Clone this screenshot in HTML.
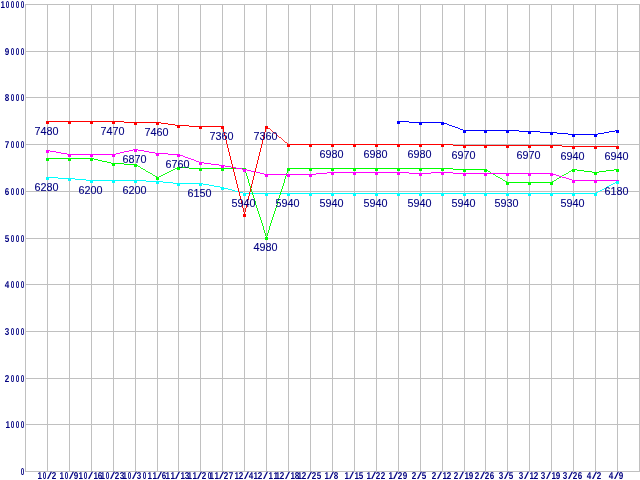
<!DOCTYPE html>
<html><head><meta charset="utf-8"><title>chart</title>
<style>
html,body{margin:0;padding:0;background:#fff;overflow:hidden}
svg{display:block}
.g{fill:#c0c0c0;shape-rendering:crispEdges}
.ax{font-family:"Liberation Sans",sans-serif;font-weight:bold;font-size:10.0px;text-rendering:geometricPrecision;fill:#000080}
.lb{font-family:"Liberation Sans",sans-serif;font-size:10.8px;fill:#000080;text-anchor:middle;stroke:#000080;stroke-width:0.1px}
.sl{font-weight:normal}
.ln{fill:none;stroke-width:1;shape-rendering:crispEdges}
.mk{shape-rendering:crispEdges}
</style></head><body>
<svg width="640" height="480" viewBox="0 0 640 480">
<rect width="640" height="480" fill="#fff"/>
<g class="g">
<rect x="25" y="4" width="1" height="468"/><rect x="47" y="4" width="1" height="468"/><rect x="69" y="4" width="1" height="468"/><rect x="91" y="4" width="1" height="468"/><rect x="113" y="4" width="1" height="468"/><rect x="135" y="4" width="1" height="468"/><rect x="157" y="4" width="1" height="468"/><rect x="178" y="4" width="1" height="468"/><rect x="200" y="4" width="1" height="468"/><rect x="222" y="4" width="1" height="468"/><rect x="244" y="4" width="1" height="468"/><rect x="266" y="4" width="1" height="468"/><rect x="288" y="4" width="1" height="468"/><rect x="310" y="4" width="1" height="468"/><rect x="332" y="4" width="1" height="468"/><rect x="354" y="4" width="1" height="468"/><rect x="376" y="4" width="1" height="468"/><rect x="398" y="4" width="1" height="468"/><rect x="420" y="4" width="1" height="468"/><rect x="442" y="4" width="1" height="468"/><rect x="464" y="4" width="1" height="468"/><rect x="485" y="4" width="1" height="468"/><rect x="507" y="4" width="1" height="468"/><rect x="529" y="4" width="1" height="468"/><rect x="551" y="4" width="1" height="468"/><rect x="573" y="4" width="1" height="468"/><rect x="595" y="4" width="1" height="468"/><rect x="617" y="4" width="1" height="468"/><rect x="639" y="4" width="1" height="468"/>
<rect x="25" y="471" width="615" height="1"/><rect x="25" y="424" width="615" height="1"/><rect x="25" y="378" width="615" height="1"/><rect x="25" y="331" width="615" height="1"/><rect x="25" y="284" width="615" height="1"/><rect x="25" y="238" width="615" height="1"/><rect x="25" y="191" width="615" height="1"/><rect x="25" y="144" width="615" height="1"/><rect x="25" y="97" width="615" height="1"/><rect x="25" y="51" width="615" height="1"/><rect x="25" y="4" width="615" height="1"/>
</g>
<g class="ln" stroke="#00ffff"><line x1="47.47" y1="177.5" x2="69.47" y2="178.5" stroke-width="0.999"/><line x1="69.47" y1="178.5" x2="91.47" y2="180.5" stroke-width="0.996"/><line x1="91.5" y1="180.5" x2="113.5" y2="180.5"/><line x1="113.5" y1="180.5" x2="135.5" y2="180.5"/><line x1="135.47" y1="180.5" x2="157.47" y2="181.5" stroke-width="0.999"/><line x1="157.47" y1="181.5" x2="178.47" y2="183.5" stroke-width="0.995"/><line x1="178.5" y1="183.5" x2="200.5" y2="183.5"/><line x1="200.47" y1="183.5" x2="222.47" y2="187.5" stroke-width="0.984"/><line x1="222.47" y1="187.5" x2="244.47" y2="193.5" stroke-width="0.965"/><line x1="244.5" y1="193.5" x2="266.5" y2="193.5"/><line x1="266.5" y1="193.5" x2="288.5" y2="193.5"/><line x1="288.5" y1="193.5" x2="310.5" y2="193.5"/><line x1="310.5" y1="193.5" x2="332.5" y2="193.5"/><line x1="332.5" y1="193.5" x2="354.5" y2="193.5"/><line x1="354.5" y1="193.5" x2="376.5" y2="193.5"/><line x1="376.5" y1="193.5" x2="398.5" y2="193.5"/><line x1="398.5" y1="193.5" x2="420.5" y2="193.5"/><line x1="420.5" y1="193.5" x2="442.5" y2="193.5"/><line x1="442.5" y1="193.5" x2="464.5" y2="193.5"/><line x1="464.5" y1="193.5" x2="485.5" y2="193.5"/><line x1="485.5" y1="193.5" x2="507.5" y2="193.5"/><line x1="507.5" y1="193.5" x2="529.5" y2="193.5"/><line x1="529.5" y1="193.5" x2="551.5" y2="193.5"/><line x1="551.5" y1="193.5" x2="573.5" y2="193.5"/><line x1="573.5" y1="193.5" x2="595.5" y2="193.5"/><line x1="595.47" y1="193.5" x2="617.47" y2="181.5" stroke-width="0.878"/></g>
<g class="mk" fill="#00ffff"><rect x="46" y="177" width="3" height="3"/><rect x="68" y="178" width="3" height="3"/><rect x="90" y="180" width="3" height="3"/><rect x="112" y="180" width="3" height="3"/><rect x="134" y="180" width="3" height="3"/><rect x="156" y="181" width="3" height="3"/><rect x="177" y="183" width="3" height="3"/><rect x="199" y="183" width="3" height="3"/><rect x="221" y="187" width="3" height="3"/><rect x="243" y="193" width="3" height="3"/><rect x="265" y="193" width="3" height="3"/><rect x="287" y="193" width="3" height="3"/><rect x="309" y="193" width="3" height="3"/><rect x="331" y="193" width="3" height="3"/><rect x="353" y="193" width="3" height="3"/><rect x="375" y="193" width="3" height="3"/><rect x="397" y="193" width="3" height="3"/><rect x="419" y="193" width="3" height="3"/><rect x="441" y="193" width="3" height="3"/><rect x="463" y="193" width="3" height="3"/><rect x="484" y="193" width="3" height="3"/><rect x="506" y="193" width="3" height="3"/><rect x="528" y="193" width="3" height="3"/><rect x="550" y="193" width="3" height="3"/><rect x="572" y="193" width="3" height="3"/><rect x="594" y="193" width="3" height="3"/><rect x="616" y="181" width="3" height="3"/></g>
<g class="ln" stroke="#00ff00"><line x1="47.5" y1="158.5" x2="69.5" y2="158.5"/><line x1="69.5" y1="158.5" x2="91.5" y2="158.5"/><line x1="91.47" y1="158.5" x2="113.47" y2="163.5" stroke-width="0.975"/><line x1="113.47" y1="163.5" x2="135.47" y2="164.5" stroke-width="0.999"/><line x1="135.47" y1="164.5" x2="157.47" y2="177.5" stroke-width="0.861"/><line x1="157.47" y1="177.5" x2="178.47" y2="167.5" stroke-width="0.903"/><line x1="178.47" y1="167.5" x2="200.47" y2="168.5" stroke-width="0.999"/><line x1="200.5" y1="168.5" x2="222.5" y2="168.5"/><line x1="222.5" y1="168.5" x2="244.5" y2="168.5"/><line x1="244.5" y1="168.47" x2="266.5" y2="237.47" stroke-width="0.953"/><line x1="266.5" y1="237.47" x2="288.5" y2="168.47" stroke-width="0.953"/><line x1="288.5" y1="168.5" x2="310.5" y2="168.5"/><line x1="310.5" y1="168.5" x2="332.5" y2="168.5"/><line x1="332.5" y1="168.5" x2="354.5" y2="168.5"/><line x1="354.5" y1="168.5" x2="376.5" y2="168.5"/><line x1="376.5" y1="168.5" x2="398.5" y2="168.5"/><line x1="398.5" y1="168.5" x2="420.5" y2="168.5"/><line x1="420.5" y1="168.5" x2="442.5" y2="168.5"/><line x1="442.47" y1="168.5" x2="464.47" y2="169.5" stroke-width="0.999"/><line x1="464.5" y1="169.5" x2="485.5" y2="169.5"/><line x1="485.47" y1="169.5" x2="507.47" y2="182.5" stroke-width="0.861"/><line x1="507.5" y1="182.5" x2="529.5" y2="182.5"/><line x1="529.5" y1="182.5" x2="551.5" y2="182.5"/><line x1="551.47" y1="182.5" x2="573.47" y2="169.5" stroke-width="0.861"/><line x1="573.47" y1="169.5" x2="595.47" y2="172.5" stroke-width="0.991"/><line x1="595.47" y1="172.5" x2="617.47" y2="169.5" stroke-width="0.991"/></g>
<g class="mk" fill="#00ff00"><rect x="46" y="158" width="3" height="3"/><rect x="68" y="158" width="3" height="3"/><rect x="90" y="158" width="3" height="3"/><rect x="112" y="163" width="3" height="3"/><rect x="134" y="164" width="3" height="3"/><rect x="156" y="177" width="3" height="3"/><rect x="177" y="167" width="3" height="3"/><rect x="199" y="168" width="3" height="3"/><rect x="221" y="168" width="3" height="3"/><rect x="243" y="168" width="3" height="3"/><rect x="265" y="237" width="3" height="3"/><rect x="287" y="168" width="3" height="3"/><rect x="309" y="168" width="3" height="3"/><rect x="331" y="168" width="3" height="3"/><rect x="353" y="168" width="3" height="3"/><rect x="375" y="168" width="3" height="3"/><rect x="397" y="168" width="3" height="3"/><rect x="419" y="168" width="3" height="3"/><rect x="441" y="168" width="3" height="3"/><rect x="463" y="169" width="3" height="3"/><rect x="484" y="169" width="3" height="3"/><rect x="506" y="182" width="3" height="3"/><rect x="528" y="182" width="3" height="3"/><rect x="550" y="182" width="3" height="3"/><rect x="572" y="169" width="3" height="3"/><rect x="594" y="172" width="3" height="3"/><rect x="616" y="169" width="3" height="3"/></g>
<g class="ln" stroke="#ff00ff"><line x1="47.47" y1="150.5" x2="69.47" y2="154.5" stroke-width="0.984"/><line x1="69.5" y1="154.5" x2="91.5" y2="154.5"/><line x1="91.5" y1="154.5" x2="113.5" y2="154.5"/><line x1="113.47" y1="154.5" x2="135.47" y2="149.5" stroke-width="0.975"/><line x1="135.47" y1="149.5" x2="157.47" y2="153.5" stroke-width="0.984"/><line x1="157.47" y1="153.5" x2="178.47" y2="154.5" stroke-width="0.999"/><line x1="178.47" y1="154.5" x2="200.47" y2="162.5" stroke-width="0.940"/><line x1="200.47" y1="162.5" x2="222.47" y2="165.5" stroke-width="0.991"/><line x1="222.47" y1="165.5" x2="244.47" y2="169.5" stroke-width="0.984"/><line x1="244.47" y1="169.5" x2="266.47" y2="174.5" stroke-width="0.975"/><line x1="266.5" y1="174.5" x2="288.5" y2="174.5"/><line x1="288.5" y1="174.5" x2="310.5" y2="174.5"/><line x1="310.47" y1="174.5" x2="332.47" y2="172.5" stroke-width="0.996"/><line x1="332.5" y1="172.5" x2="354.5" y2="172.5"/><line x1="354.5" y1="172.5" x2="376.5" y2="172.5"/><line x1="376.5" y1="172.5" x2="398.5" y2="172.5"/><line x1="398.47" y1="172.5" x2="420.47" y2="173.5" stroke-width="0.999"/><line x1="420.47" y1="173.5" x2="442.47" y2="172.5" stroke-width="0.999"/><line x1="442.47" y1="172.5" x2="464.47" y2="173.5" stroke-width="0.999"/><line x1="464.5" y1="173.5" x2="485.5" y2="173.5"/><line x1="485.5" y1="173.5" x2="507.5" y2="173.5"/><line x1="507.5" y1="173.5" x2="529.5" y2="173.5"/><line x1="529.5" y1="173.5" x2="551.5" y2="173.5"/><line x1="551.47" y1="173.5" x2="573.47" y2="180.5" stroke-width="0.953"/><line x1="573.5" y1="180.5" x2="595.5" y2="180.5"/><line x1="595.5" y1="180.5" x2="617.5" y2="180.5"/></g>
<g class="mk" fill="#ff00ff"><rect x="46" y="150" width="3" height="3"/><rect x="68" y="154" width="3" height="3"/><rect x="90" y="154" width="3" height="3"/><rect x="112" y="154" width="3" height="3"/><rect x="134" y="149" width="3" height="3"/><rect x="156" y="153" width="3" height="3"/><rect x="177" y="154" width="3" height="3"/><rect x="199" y="162" width="3" height="3"/><rect x="221" y="165" width="3" height="3"/><rect x="243" y="169" width="3" height="3"/><rect x="265" y="174" width="3" height="3"/><rect x="287" y="174" width="3" height="3"/><rect x="309" y="174" width="3" height="3"/><rect x="331" y="172" width="3" height="3"/><rect x="353" y="172" width="3" height="3"/><rect x="375" y="172" width="3" height="3"/><rect x="397" y="172" width="3" height="3"/><rect x="419" y="173" width="3" height="3"/><rect x="441" y="172" width="3" height="3"/><rect x="463" y="173" width="3" height="3"/><rect x="484" y="173" width="3" height="3"/><rect x="506" y="173" width="3" height="3"/><rect x="528" y="173" width="3" height="3"/><rect x="550" y="173" width="3" height="3"/><rect x="572" y="180" width="3" height="3"/><rect x="594" y="180" width="3" height="3"/><rect x="616" y="180" width="3" height="3"/></g>
<g class="ln" stroke="#ff0000"><line x1="47.5" y1="121.5" x2="69.5" y2="121.5"/><line x1="69.5" y1="121.5" x2="91.5" y2="121.5"/><line x1="91.5" y1="121.5" x2="113.5" y2="121.5"/><line x1="113.47" y1="121.5" x2="135.47" y2="122.5" stroke-width="0.999"/><line x1="135.5" y1="122.5" x2="157.5" y2="122.5"/><line x1="157.47" y1="122.5" x2="178.47" y2="125.5" stroke-width="0.990"/><line x1="178.47" y1="125.5" x2="200.47" y2="126.5" stroke-width="0.999"/><line x1="200.5" y1="126.5" x2="222.5" y2="126.5"/><line x1="222.5" y1="126.47" x2="244.5" y2="214.47" stroke-width="0.970"/><line x1="244.5" y1="214.47" x2="266.5" y2="126.47" stroke-width="0.970"/><line x1="266.47" y1="126.5" x2="288.47" y2="144.5" stroke-width="0.774"/><line x1="288.5" y1="144.5" x2="310.5" y2="144.5"/><line x1="310.5" y1="144.5" x2="332.5" y2="144.5"/><line x1="332.5" y1="144.5" x2="354.5" y2="144.5"/><line x1="354.5" y1="144.5" x2="376.5" y2="144.5"/><line x1="376.5" y1="144.5" x2="398.5" y2="144.5"/><line x1="398.5" y1="144.5" x2="420.5" y2="144.5"/><line x1="420.5" y1="144.5" x2="442.5" y2="144.5"/><line x1="442.47" y1="144.5" x2="464.47" y2="145.5" stroke-width="0.999"/><line x1="464.5" y1="145.5" x2="485.5" y2="145.5"/><line x1="485.5" y1="145.5" x2="507.5" y2="145.5"/><line x1="507.5" y1="145.5" x2="529.5" y2="145.5"/><line x1="529.5" y1="145.5" x2="551.5" y2="145.5"/><line x1="551.47" y1="145.5" x2="573.47" y2="146.5" stroke-width="0.999"/><line x1="573.5" y1="146.5" x2="595.5" y2="146.5"/><line x1="595.5" y1="146.5" x2="617.5" y2="146.5"/></g>
<g class="mk" fill="#ff0000"><rect x="46" y="121" width="3" height="3"/><rect x="68" y="121" width="3" height="3"/><rect x="90" y="121" width="3" height="3"/><rect x="112" y="121" width="3" height="3"/><rect x="134" y="122" width="3" height="3"/><rect x="156" y="122" width="3" height="3"/><rect x="177" y="125" width="3" height="3"/><rect x="199" y="126" width="3" height="3"/><rect x="221" y="126" width="3" height="3"/><rect x="243" y="214" width="3" height="3"/><rect x="265" y="126" width="3" height="3"/><rect x="287" y="144" width="3" height="3"/><rect x="309" y="144" width="3" height="3"/><rect x="331" y="144" width="3" height="3"/><rect x="353" y="144" width="3" height="3"/><rect x="375" y="144" width="3" height="3"/><rect x="397" y="144" width="3" height="3"/><rect x="419" y="144" width="3" height="3"/><rect x="441" y="144" width="3" height="3"/><rect x="463" y="145" width="3" height="3"/><rect x="484" y="145" width="3" height="3"/><rect x="506" y="145" width="3" height="3"/><rect x="528" y="145" width="3" height="3"/><rect x="550" y="145" width="3" height="3"/><rect x="572" y="146" width="3" height="3"/><rect x="594" y="146" width="3" height="3"/><rect x="616" y="146" width="3" height="3"/></g>
<g class="ln" stroke="#0000ff"><line x1="398.47" y1="121.5" x2="420.47" y2="122.5" stroke-width="0.999"/><line x1="420.5" y1="122.5" x2="442.5" y2="122.5"/><line x1="442.47" y1="122.5" x2="464.47" y2="130.5" stroke-width="0.940"/><line x1="464.5" y1="130.5" x2="485.5" y2="130.5"/><line x1="485.5" y1="130.5" x2="507.5" y2="130.5"/><line x1="507.47" y1="130.5" x2="529.47" y2="131.5" stroke-width="0.999"/><line x1="529.47" y1="131.5" x2="551.47" y2="132.5" stroke-width="0.999"/><line x1="551.47" y1="132.5" x2="573.47" y2="134.5" stroke-width="0.996"/><line x1="573.5" y1="134.5" x2="595.5" y2="134.5"/><line x1="595.47" y1="134.5" x2="617.47" y2="130.5" stroke-width="0.984"/></g>
<g class="mk" fill="#0000ff"><rect x="397" y="121" width="3" height="3"/><rect x="419" y="122" width="3" height="3"/><rect x="441" y="122" width="3" height="3"/><rect x="463" y="130" width="3" height="3"/><rect x="484" y="130" width="3" height="3"/><rect x="506" y="130" width="3" height="3"/><rect x="528" y="131" width="3" height="3"/><rect x="550" y="132" width="3" height="3"/><rect x="572" y="134" width="3" height="3"/><rect x="594" y="134" width="3" height="3"/><rect x="616" y="130" width="3" height="3"/></g>
<rect class="mk" fill="#00ffff" x="616" y="181" width="3" height="3"/>
<text class="ax" y="474.55"><tspan x="20.75" textLength="3.50" lengthAdjust="spacingAndGlyphs">0</tspan></text>
<text class="ax" y="427.55"><tspan x="5.40" textLength="4.50" lengthAdjust="spacingAndGlyphs">1</tspan><tspan x="10.75" textLength="3.50" lengthAdjust="spacingAndGlyphs">0</tspan><tspan x="15.75" textLength="3.50" lengthAdjust="spacingAndGlyphs">0</tspan><tspan x="20.75" textLength="3.50" lengthAdjust="spacingAndGlyphs">0</tspan></text>
<text class="ax" y="381.55"><tspan x="4.80" textLength="4.50" lengthAdjust="spacingAndGlyphs">2</tspan><tspan x="10.75" textLength="3.50" lengthAdjust="spacingAndGlyphs">0</tspan><tspan x="15.75" textLength="3.50" lengthAdjust="spacingAndGlyphs">0</tspan><tspan x="20.75" textLength="3.50" lengthAdjust="spacingAndGlyphs">0</tspan></text>
<text class="ax" y="334.55"><tspan x="4.80" textLength="4.50" lengthAdjust="spacingAndGlyphs">3</tspan><tspan x="10.75" textLength="3.50" lengthAdjust="spacingAndGlyphs">0</tspan><tspan x="15.75" textLength="3.50" lengthAdjust="spacingAndGlyphs">0</tspan><tspan x="20.75" textLength="3.50" lengthAdjust="spacingAndGlyphs">0</tspan></text>
<text class="ax" y="287.55"><tspan x="4.80" textLength="4.50" lengthAdjust="spacingAndGlyphs">4</tspan><tspan x="10.75" textLength="3.50" lengthAdjust="spacingAndGlyphs">0</tspan><tspan x="15.75" textLength="3.50" lengthAdjust="spacingAndGlyphs">0</tspan><tspan x="20.75" textLength="3.50" lengthAdjust="spacingAndGlyphs">0</tspan></text>
<text class="ax" y="241.55"><tspan x="4.80" textLength="4.50" lengthAdjust="spacingAndGlyphs">5</tspan><tspan x="10.75" textLength="3.50" lengthAdjust="spacingAndGlyphs">0</tspan><tspan x="15.75" textLength="3.50" lengthAdjust="spacingAndGlyphs">0</tspan><tspan x="20.75" textLength="3.50" lengthAdjust="spacingAndGlyphs">0</tspan></text>
<text class="ax" y="194.55"><tspan x="4.80" textLength="4.50" lengthAdjust="spacingAndGlyphs">6</tspan><tspan x="10.75" textLength="3.50" lengthAdjust="spacingAndGlyphs">0</tspan><tspan x="15.75" textLength="3.50" lengthAdjust="spacingAndGlyphs">0</tspan><tspan x="20.75" textLength="3.50" lengthAdjust="spacingAndGlyphs">0</tspan></text>
<text class="ax" y="147.55"><tspan x="4.80" textLength="4.50" lengthAdjust="spacingAndGlyphs">7</tspan><tspan x="10.75" textLength="3.50" lengthAdjust="spacingAndGlyphs">0</tspan><tspan x="15.75" textLength="3.50" lengthAdjust="spacingAndGlyphs">0</tspan><tspan x="20.75" textLength="3.50" lengthAdjust="spacingAndGlyphs">0</tspan></text>
<text class="ax" y="100.55"><tspan x="4.80" textLength="4.50" lengthAdjust="spacingAndGlyphs">8</tspan><tspan x="10.75" textLength="3.50" lengthAdjust="spacingAndGlyphs">0</tspan><tspan x="15.75" textLength="3.50" lengthAdjust="spacingAndGlyphs">0</tspan><tspan x="20.75" textLength="3.50" lengthAdjust="spacingAndGlyphs">0</tspan></text>
<text class="ax" y="54.55"><tspan x="4.80" textLength="4.50" lengthAdjust="spacingAndGlyphs">9</tspan><tspan x="10.75" textLength="3.50" lengthAdjust="spacingAndGlyphs">0</tspan><tspan x="15.75" textLength="3.50" lengthAdjust="spacingAndGlyphs">0</tspan><tspan x="20.75" textLength="3.50" lengthAdjust="spacingAndGlyphs">0</tspan></text>
<text class="ax" y="7.55"><tspan x="0.40" textLength="4.50" lengthAdjust="spacingAndGlyphs">1</tspan><tspan x="5.75" textLength="3.50" lengthAdjust="spacingAndGlyphs">0</tspan><tspan x="10.75" textLength="3.50" lengthAdjust="spacingAndGlyphs">0</tspan><tspan x="15.75" textLength="3.50" lengthAdjust="spacingAndGlyphs">0</tspan><tspan x="20.75" textLength="3.50" lengthAdjust="spacingAndGlyphs">0</tspan></text>
<text class="ax" y="478.55"><tspan x="37.40" textLength="4.50" lengthAdjust="spacingAndGlyphs">1</tspan><tspan x="42.75" textLength="3.50" lengthAdjust="spacingAndGlyphs">0</tspan><tspan class="sl" x="47.10" textLength="5" lengthAdjust="spacingAndGlyphs">/</tspan><tspan x="51.80" textLength="4.50" lengthAdjust="spacingAndGlyphs">2</tspan></text>
<text class="ax" y="478.55"><tspan x="59.40" textLength="4.50" lengthAdjust="spacingAndGlyphs">1</tspan><tspan x="64.75" textLength="3.50" lengthAdjust="spacingAndGlyphs">0</tspan><tspan class="sl" x="69.10" textLength="5" lengthAdjust="spacingAndGlyphs">/</tspan><tspan x="73.80" textLength="4.50" lengthAdjust="spacingAndGlyphs">9</tspan></text>
<text class="ax" y="478.55"><tspan x="78.40" textLength="4.50" lengthAdjust="spacingAndGlyphs">1</tspan><tspan x="83.75" textLength="3.50" lengthAdjust="spacingAndGlyphs">0</tspan><tspan class="sl" x="88.10" textLength="5" lengthAdjust="spacingAndGlyphs">/</tspan><tspan x="93.40" textLength="4.50" lengthAdjust="spacingAndGlyphs">1</tspan><tspan x="97.80" textLength="4.50" lengthAdjust="spacingAndGlyphs">6</tspan></text>
<text class="ax" y="478.55"><tspan x="100.40" textLength="4.50" lengthAdjust="spacingAndGlyphs">1</tspan><tspan x="105.75" textLength="3.50" lengthAdjust="spacingAndGlyphs">0</tspan><tspan class="sl" x="110.10" textLength="5" lengthAdjust="spacingAndGlyphs">/</tspan><tspan x="114.80" textLength="4.50" lengthAdjust="spacingAndGlyphs">2</tspan><tspan x="119.80" textLength="4.50" lengthAdjust="spacingAndGlyphs">3</tspan></text>
<text class="ax" y="478.55"><tspan x="122.40" textLength="4.50" lengthAdjust="spacingAndGlyphs">1</tspan><tspan x="127.75" textLength="3.50" lengthAdjust="spacingAndGlyphs">0</tspan><tspan class="sl" x="132.10" textLength="5" lengthAdjust="spacingAndGlyphs">/</tspan><tspan x="136.80" textLength="4.50" lengthAdjust="spacingAndGlyphs">3</tspan><tspan x="142.75" textLength="3.50" lengthAdjust="spacingAndGlyphs">0</tspan></text>
<text class="ax" y="478.55"><tspan x="147.40" textLength="4.50" lengthAdjust="spacingAndGlyphs">1</tspan><tspan x="152.40" textLength="4.50" lengthAdjust="spacingAndGlyphs">1</tspan><tspan class="sl" x="157.10" textLength="5" lengthAdjust="spacingAndGlyphs">/</tspan><tspan x="161.80" textLength="4.50" lengthAdjust="spacingAndGlyphs">6</tspan></text>
<text class="ax" y="478.55"><tspan x="165.40" textLength="4.50" lengthAdjust="spacingAndGlyphs">1</tspan><tspan x="170.40" textLength="4.50" lengthAdjust="spacingAndGlyphs">1</tspan><tspan class="sl" x="175.10" textLength="5" lengthAdjust="spacingAndGlyphs">/</tspan><tspan x="180.40" textLength="4.50" lengthAdjust="spacingAndGlyphs">1</tspan><tspan x="184.80" textLength="4.50" lengthAdjust="spacingAndGlyphs">3</tspan></text>
<text class="ax" y="478.55"><tspan x="187.40" textLength="4.50" lengthAdjust="spacingAndGlyphs">1</tspan><tspan x="192.40" textLength="4.50" lengthAdjust="spacingAndGlyphs">1</tspan><tspan class="sl" x="197.10" textLength="5" lengthAdjust="spacingAndGlyphs">/</tspan><tspan x="201.80" textLength="4.50" lengthAdjust="spacingAndGlyphs">2</tspan><tspan x="207.75" textLength="3.50" lengthAdjust="spacingAndGlyphs">0</tspan></text>
<text class="ax" y="478.55"><tspan x="209.40" textLength="4.50" lengthAdjust="spacingAndGlyphs">1</tspan><tspan x="214.40" textLength="4.50" lengthAdjust="spacingAndGlyphs">1</tspan><tspan class="sl" x="219.10" textLength="5" lengthAdjust="spacingAndGlyphs">/</tspan><tspan x="223.80" textLength="4.50" lengthAdjust="spacingAndGlyphs">2</tspan><tspan x="228.80" textLength="4.50" lengthAdjust="spacingAndGlyphs">7</tspan></text>
<text class="ax" y="478.55"><tspan x="234.40" textLength="4.50" lengthAdjust="spacingAndGlyphs">1</tspan><tspan x="238.80" textLength="4.50" lengthAdjust="spacingAndGlyphs">2</tspan><tspan class="sl" x="244.10" textLength="5" lengthAdjust="spacingAndGlyphs">/</tspan><tspan x="248.80" textLength="4.50" lengthAdjust="spacingAndGlyphs">4</tspan></text>
<text class="ax" y="478.55"><tspan x="253.40" textLength="4.50" lengthAdjust="spacingAndGlyphs">1</tspan><tspan x="257.80" textLength="4.50" lengthAdjust="spacingAndGlyphs">2</tspan><tspan class="sl" x="263.10" textLength="5" lengthAdjust="spacingAndGlyphs">/</tspan><tspan x="268.40" textLength="4.50" lengthAdjust="spacingAndGlyphs">1</tspan><tspan x="273.40" textLength="4.50" lengthAdjust="spacingAndGlyphs">1</tspan></text>
<text class="ax" y="478.55"><tspan x="275.40" textLength="4.50" lengthAdjust="spacingAndGlyphs">1</tspan><tspan x="279.80" textLength="4.50" lengthAdjust="spacingAndGlyphs">2</tspan><tspan class="sl" x="285.10" textLength="5" lengthAdjust="spacingAndGlyphs">/</tspan><tspan x="290.40" textLength="4.50" lengthAdjust="spacingAndGlyphs">1</tspan><tspan x="294.80" textLength="4.50" lengthAdjust="spacingAndGlyphs">8</tspan></text>
<text class="ax" y="478.55"><tspan x="297.40" textLength="4.50" lengthAdjust="spacingAndGlyphs">1</tspan><tspan x="301.80" textLength="4.50" lengthAdjust="spacingAndGlyphs">2</tspan><tspan class="sl" x="307.10" textLength="5" lengthAdjust="spacingAndGlyphs">/</tspan><tspan x="311.80" textLength="4.50" lengthAdjust="spacingAndGlyphs">2</tspan><tspan x="316.80" textLength="4.50" lengthAdjust="spacingAndGlyphs">5</tspan></text>
<text class="ax" y="478.55"><tspan x="324.40" textLength="4.50" lengthAdjust="spacingAndGlyphs">1</tspan><tspan class="sl" x="329.10" textLength="5" lengthAdjust="spacingAndGlyphs">/</tspan><tspan x="333.80" textLength="4.50" lengthAdjust="spacingAndGlyphs">8</tspan></text>
<text class="ax" y="478.55"><tspan x="344.40" textLength="4.50" lengthAdjust="spacingAndGlyphs">1</tspan><tspan class="sl" x="349.10" textLength="5" lengthAdjust="spacingAndGlyphs">/</tspan><tspan x="354.40" textLength="4.50" lengthAdjust="spacingAndGlyphs">1</tspan><tspan x="358.80" textLength="4.50" lengthAdjust="spacingAndGlyphs">5</tspan></text>
<text class="ax" y="478.55"><tspan x="366.40" textLength="4.50" lengthAdjust="spacingAndGlyphs">1</tspan><tspan class="sl" x="371.10" textLength="5" lengthAdjust="spacingAndGlyphs">/</tspan><tspan x="375.80" textLength="4.50" lengthAdjust="spacingAndGlyphs">2</tspan><tspan x="380.80" textLength="4.50" lengthAdjust="spacingAndGlyphs">2</tspan></text>
<text class="ax" y="478.55"><tspan x="388.40" textLength="4.50" lengthAdjust="spacingAndGlyphs">1</tspan><tspan class="sl" x="393.10" textLength="5" lengthAdjust="spacingAndGlyphs">/</tspan><tspan x="397.80" textLength="4.50" lengthAdjust="spacingAndGlyphs">2</tspan><tspan x="402.80" textLength="4.50" lengthAdjust="spacingAndGlyphs">9</tspan></text>
<text class="ax" y="478.55"><tspan x="411.80" textLength="4.50" lengthAdjust="spacingAndGlyphs">2</tspan><tspan class="sl" x="417.10" textLength="5" lengthAdjust="spacingAndGlyphs">/</tspan><tspan x="421.80" textLength="4.50" lengthAdjust="spacingAndGlyphs">5</tspan></text>
<text class="ax" y="478.55"><tspan x="431.80" textLength="4.50" lengthAdjust="spacingAndGlyphs">2</tspan><tspan class="sl" x="437.10" textLength="5" lengthAdjust="spacingAndGlyphs">/</tspan><tspan x="442.40" textLength="4.50" lengthAdjust="spacingAndGlyphs">1</tspan><tspan x="446.80" textLength="4.50" lengthAdjust="spacingAndGlyphs">2</tspan></text>
<text class="ax" y="478.55"><tspan x="453.80" textLength="4.50" lengthAdjust="spacingAndGlyphs">2</tspan><tspan class="sl" x="459.10" textLength="5" lengthAdjust="spacingAndGlyphs">/</tspan><tspan x="464.40" textLength="4.50" lengthAdjust="spacingAndGlyphs">1</tspan><tspan x="468.80" textLength="4.50" lengthAdjust="spacingAndGlyphs">9</tspan></text>
<text class="ax" y="478.55"><tspan x="474.80" textLength="4.50" lengthAdjust="spacingAndGlyphs">2</tspan><tspan class="sl" x="480.10" textLength="5" lengthAdjust="spacingAndGlyphs">/</tspan><tspan x="484.80" textLength="4.50" lengthAdjust="spacingAndGlyphs">2</tspan><tspan x="489.80" textLength="4.50" lengthAdjust="spacingAndGlyphs">6</tspan></text>
<text class="ax" y="478.55"><tspan x="498.80" textLength="4.50" lengthAdjust="spacingAndGlyphs">3</tspan><tspan class="sl" x="504.10" textLength="5" lengthAdjust="spacingAndGlyphs">/</tspan><tspan x="508.80" textLength="4.50" lengthAdjust="spacingAndGlyphs">5</tspan></text>
<text class="ax" y="478.55"><tspan x="518.80" textLength="4.50" lengthAdjust="spacingAndGlyphs">3</tspan><tspan class="sl" x="524.10" textLength="5" lengthAdjust="spacingAndGlyphs">/</tspan><tspan x="529.40" textLength="4.50" lengthAdjust="spacingAndGlyphs">1</tspan><tspan x="533.80" textLength="4.50" lengthAdjust="spacingAndGlyphs">2</tspan></text>
<text class="ax" y="478.55"><tspan x="540.80" textLength="4.50" lengthAdjust="spacingAndGlyphs">3</tspan><tspan class="sl" x="546.10" textLength="5" lengthAdjust="spacingAndGlyphs">/</tspan><tspan x="551.40" textLength="4.50" lengthAdjust="spacingAndGlyphs">1</tspan><tspan x="555.80" textLength="4.50" lengthAdjust="spacingAndGlyphs">9</tspan></text>
<text class="ax" y="478.55"><tspan x="562.80" textLength="4.50" lengthAdjust="spacingAndGlyphs">3</tspan><tspan class="sl" x="568.10" textLength="5" lengthAdjust="spacingAndGlyphs">/</tspan><tspan x="572.80" textLength="4.50" lengthAdjust="spacingAndGlyphs">2</tspan><tspan x="577.80" textLength="4.50" lengthAdjust="spacingAndGlyphs">6</tspan></text>
<text class="ax" y="478.55"><tspan x="586.80" textLength="4.50" lengthAdjust="spacingAndGlyphs">4</tspan><tspan class="sl" x="592.10" textLength="5" lengthAdjust="spacingAndGlyphs">/</tspan><tspan x="596.80" textLength="4.50" lengthAdjust="spacingAndGlyphs">2</tspan></text>
<text class="ax" y="478.55"><tspan x="608.80" textLength="4.50" lengthAdjust="spacingAndGlyphs">4</tspan><tspan class="sl" x="614.10" textLength="5" lengthAdjust="spacingAndGlyphs">/</tspan><tspan x="618.80" textLength="4.50" lengthAdjust="spacingAndGlyphs">9</tspan></text>
<text class="lb" x="46.5" y="135.0">7480</text>
<text class="lb" x="112.5" y="135.0">7470</text>
<text class="lb" x="156.5" y="136.0">7460</text>
<text class="lb" x="221.5" y="140.0">7360</text>
<text class="lb" x="265.5" y="140.0">7360</text>
<text class="lb" x="331.5" y="158.0">6980</text>
<text class="lb" x="375.5" y="158.0">6980</text>
<text class="lb" x="419.5" y="158.0">6980</text>
<text class="lb" x="463.5" y="159.0">6970</text>
<text class="lb" x="528.5" y="159.0">6970</text>
<text class="lb" x="572.5" y="160.0">6940</text>
<text class="lb" x="616.5" y="160.0">6940</text>
<text class="lb" x="134.5" y="163.0">6870</text>
<text class="lb" x="177.5" y="168.0">6760</text>
<text class="lb" x="46.5" y="191.0">6280</text>
<text class="lb" x="90.5" y="194.0">6200</text>
<text class="lb" x="134.5" y="194.0">6200</text>
<text class="lb" x="199.5" y="197.0">6150</text>
<text class="lb" x="243.5" y="207.0">5940</text>
<text class="lb" x="287.5" y="207.0">5940</text>
<text class="lb" x="331.5" y="207.0">5940</text>
<text class="lb" x="375.5" y="207.0">5940</text>
<text class="lb" x="419.5" y="207.0">5940</text>
<text class="lb" x="463.5" y="207.0">5940</text>
<text class="lb" x="506.5" y="207.0">5930</text>
<text class="lb" x="572.5" y="207.0">5940</text>
<text class="lb" x="616.5" y="195.0">6180</text>
<text class="lb" x="265.5" y="251.0">4980</text>
</svg>
</body></html>
